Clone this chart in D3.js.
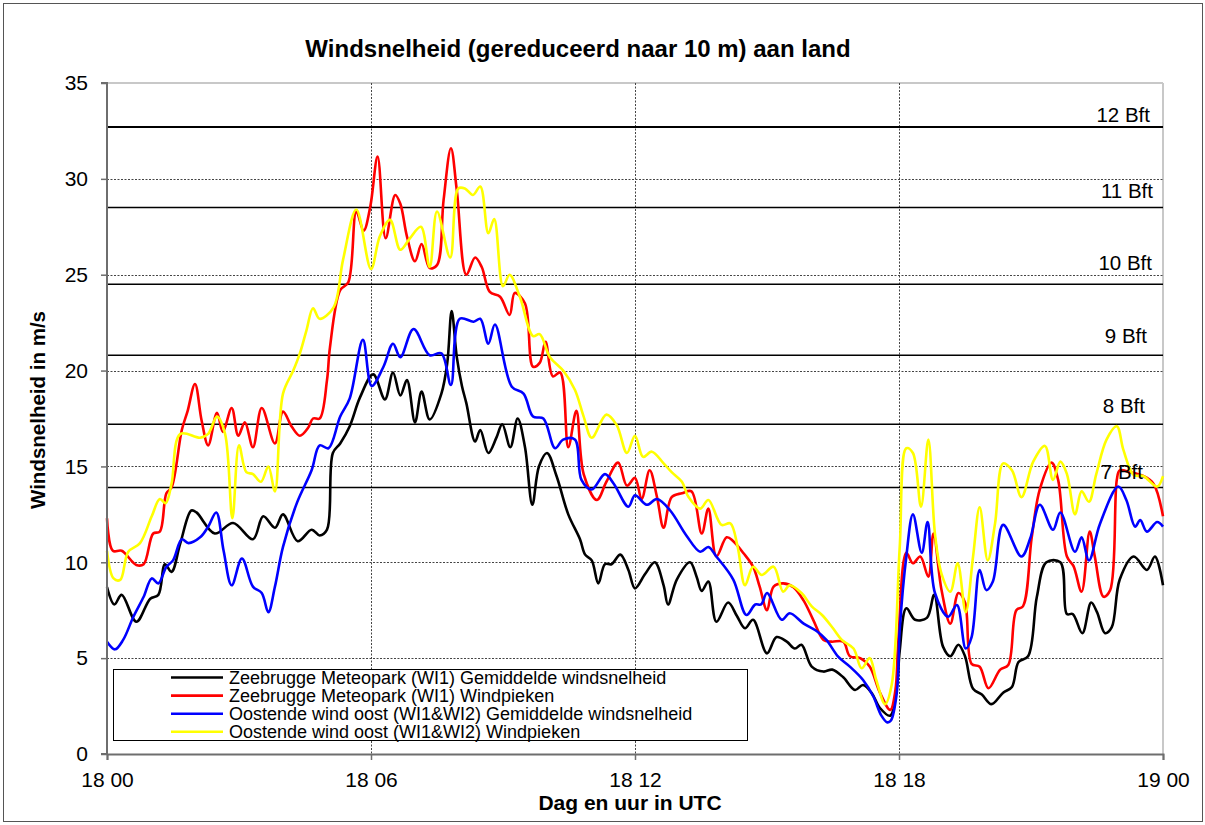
<!DOCTYPE html>
<html>
<head>
<meta charset="utf-8">
<script src="https://cdn.jsdelivr.net/npm/d3@7"></script>
<style>
  html, body { margin: 0; padding: 0; background: #fff; }
  svg { display: block; font-family: "Liberation Sans", Arial, sans-serif; }
</style>
</head>
<body>
<svg id="chart" width="1205" height="825"></svg>
<script>
// ---------------- DATA (minutes after 18 00 UTC, m/s) ----------------
const title = "Windsnelheid (gereduceerd naar 10 m) aan land";
const yTitle = "Windsnelheid in m/s";
const xTitle = "Dag en uur in UTC";
const xTickMinutes = [0, 360, 720, 1080, 1440];
const xTickLabels = ["18 00", "18 06", "18 12", "18 18", "19 00"];
const yTicks = [0, 5, 10, 15, 20, 25, 30, 35];
const bftValues = [32.7, 28.5, 24.5, 20.8, 17.2, 13.9];
const bftLabels = ["12 Bft", "11 Bft", "10 Bft", "9 Bft", "8 Bft", "7 Bft"];
const seriesNames = [
  "Zeebrugge Meteopark (WI1) Gemiddelde windsnelheid",
  "Zeebrugge Meteopark (WI1) Windpieken",
  "Oostende wind oost (WI1&WI2) Gemiddelde windsnelheid",
  "Oostende wind oost (WI1&WI2) Windpieken"
];

const zeebruggeMean = [[0,8.7],[10,7.8],[20,8.3],[40,6.9],[59,8.1],[70,8.3],[79,9.9],[88,9.5],[100,11.0],[115,12.7],[122,12.6],[147,11.5],[172,12.05],[199,11.2],[213,12.4],[229,11.8],[240,12.5],[260,11.1],[279,11.7],[290,11.4],[300,11.7],[308,15.7],[318,16.2],[331,17.1],[345,18.6],[363,19.8],[379,18.5],[390,19.9],[400,18.7],[409,19.5],[420,17.3],[429,18.9],[440,17.45],[456,18.8],[464,20.4],[470,23.1],[477,20.7],[484,19.2],[490,18.3],[502,16.3],[509,16.9],[520,15.7],[531,16.5],[539,17.2],[550,16.0],[560,17.5],[570,16.0],[580,13.0],[589,15.0],[600,15.7],[613,14.5],[629,12.5],[645,11.2],[652,10.4],[661,10.1],[670,8.9],[679,9.9],[688,9.9],[700,10.4],[711,9.6],[720,8.64],[734,9.4],[747,10.0],[759,8.8],[765,7.8],[777,9.1],[795,10.0],[804,9.25],[811,8.5],[820,9.0],[831,6.9],[847,7.9],[859,7.2],[870,6.56],[881,7.0],[900,5.25],[913,6.1],[927,5.86],[938,5.5],[947,5.7],[961,4.56],[977,4.3],[989,4.4],[1004,4.0],[1020,3.34],[1031,3.6],[1043,3.17],[1054,2.4],[1068,2.0],[1077,3.5],[1081,5.4],[1090,7.6],[1102,7.0],[1118,7.1],[1128,8.3],[1140,5.6],[1150,5.1],[1161,5.7],[1170,5.1],[1181,3.4],[1193,3.1],[1206,2.6],[1222,3.2],[1234,3.5],[1243,4.8],[1256,5.1],[1268,8.2],[1281,10.0],[1300,10.0],[1309,7.3],[1317,7.3],[1330,6.3],[1342,7.9],[1350,7.4],[1361,6.3],[1370,6.6],[1381,9.1],[1400,10.3],[1418,9.6],[1429,10.3],[1440,8.8]];

const zeebruggePeak = [[0,12.3],[8,10.6],[20,10.6],[40,9.86],[50,9.9],[63,11.5],[72,11.6],[81,13.6],[88,13.9],[102,16.9],[110,17.9],[120,19.3],[129,17.4],[138,16.1],[150,17.8],[158,16.8],[170,18.05],[179,16.6],[188,17.3],[199,16.0],[211,18.05],[229,16.2],[240,17.86],[252,17.07],[263,16.6],[274,17.0],[281,17.5],[290,17.5],[300,19.5],[304,21.2],[318,24.2],[329,24.6],[340,28.3],[350,27.3],[359,28.55],[369,31.16],[380,26.9],[393,29.16],[400,28.7],[409,27.0],[420,25.7],[429,26.6],[440,25.35],[450,25.5],[459,28.9],[469,31.6],[477,29.4],[490,25.0],[502,25.9],[511,25.4],[522,24.1],[536,23.85],[549,22.9],[556,24.05],[570,23.5],[581,20.2],[590,20.4],[598,21.5],[608,19.7],[618,19.9],[629,16.0],[640,17.9],[650,14.6],[668,13.25],[681,14.2],[697,15.2],[709,14.0],[720,14.4],[729,13.3],[740,14.8],[750,13.4],[759,11.8],[770,13.4],[784,13.6],[797,13.7],[811,11.5],[820,12.8],[831,10.3],[845,11.3],[854,11.1],[868,10.47],[881,9.77],[890,8.73],[900,7.5],[909,8.73],[922,8.9],[936,8.7],[950,8.0],[963,7.0],[977,5.95],[988,5.86],[1004,5.86],[1013,5.1],[1027,5.0],[1040,4.56],[1054,3.2],[1068,2.3],[1075,3.3],[1079,5.8],[1090,10.5],[1099,9.95],[1109,10.3],[1120,9.25],[1127,11.5],[1138,8.55],[1150,6.8],[1161,8.4],[1170,7.9],[1179,4.7],[1190,4.55],[1202,3.43],[1218,4.4],[1229,4.64],[1240,7.5],[1249,7.7],[1261,11.3],[1272,13.8],[1288,15.2],[1297,14.3],[1309,10.3],[1318,9.8],[1329,8.47],[1340,11.6],[1347,10.3],[1359,8.2],[1368,8.55],[1377,14.3],[1381,14.8],[1395,14.7],[1413,14.5],[1427,14.1],[1440,12.4]];

const oostendeMean = [[0,5.86],[11,5.46],[22,5.95],[36,7.16],[50,8.2],[61,9.16],[70,8.9],[81,9.77],[90,10.1],[102,11.2],[111,11.0],[127,11.3],[138,11.86],[149,12.6],[159,10.6],[170,8.8],[184,10.2],[199,8.73],[211,8.4],[220,7.4],[229,8.73],[240,10.8],[259,13.1],[279,14.8],[290,16.1],[302,15.95],[318,17.6],[331,18.55],[349,21.6],[361,19.2],[377,20.2],[390,21.4],[400,20.7],[418,22.17],[440,20.8],[456,20.9],[469,19.25],[481,22.7],[500,22.55],[509,22.7],[520,21.4],[529,22.4],[552,19.16],[568,18.8],[581,17.6],[595,17.5],[611,15.95],[622,16.4],[638,16.4],[647,14.3],[661,13.8],[679,14.6],[691,14.1],[711,12.9],[720,13.5],[736,13.0],[750,13.3],[768,12.7],[790,11.4],[809,10.55],[820,10.8],[831,10.3],[854,9.1],[872,7.25],[884,7.8],[892,7.8],[900,8.4],[920,7.0],[931,7.34],[950,6.8],[968,6.4],[981,5.95],[997,5.08],[1013,4.56],[1031,3.86],[1045,3.0],[1056,2.0],[1064,1.65],[1069,1.75],[1077,3.2],[1081,6.5],[1090,10.3],[1099,12.5],[1111,10.5],[1119,12.1],[1129,8.4],[1147,7.16],[1159,7.77],[1171,5.5],[1179,6.1],[1190,9.6],[1199,8.55],[1208,9.0],[1222,11.95],[1247,10.3],[1259,11.25],[1272,13.0],[1290,11.7],[1300,12.6],[1320,10.55],[1329,11.3],[1339,10.1],[1354,12.0],[1379,13.95],[1390,13.25],[1402,11.86],[1409,12.2],[1418,11.6],[1432,12.1],[1440,11.86]];

const oostendePeak = [[0,10.6],[9,9.16],[18,9.08],[29,10.55],[45,11.0],[61,12.4],[72,13.3],[80,13.08],[88,14.1],[100,16.7],[127,16.5],[138,16.7],[150,17.6],[161,16.7],[171,12.3],[180,16.1],[190,14.7],[199,14.6],[210,14.2],[220,15.0],[229,13.7],[240,18.8],[254,20.0],[263,20.9],[272,22.1],[281,23.25],[290,22.7],[309,23.3],[322,25.8],[340,28.4],[360,25.3],[372,27.0],[386,27.86],[400,26.3],[413,26.9],[428,27.5],[440,25.4],[450,28.3],[468,25.9],[479,29.5],[488,29.5],[499,29.16],[509,29.6],[520,27.16],[528,27.9],[540,24.4],[549,25.0],[563,23.85],[581,21.8],[590,21.9],[604,20.7],[622,20.0],[638,19.0],[650,17.6],[661,16.5],[681,17.7],[695,17.16],[709,15.7],[720,16.6],[731,15.5],[743,15.77],[759,15.16],[770,14.7],[784,14.2],[793,13.4],[809,12.8],[820,13.25],[838,11.95],[850,12.03],[860,10.8],[870,8.8],[881,9.77],[893,9.34],[909,9.77],[922,8.47],[931,8.8],[947,8.4],[961,7.7],[975,7.25],[990,6.56],[1002,5.95],[1018,5.5],[1029,4.47],[1040,5.0],[1049,3.86],[1061,2.6],[1070,3.6],[1081,10.8],[1090,15.95],[1099,15.7],[1110,12.9],[1120,16.4],[1129,11.5],[1138,9.4],[1150,8.47],[1160,9.95],[1171,7.4],[1181,10.3],[1190,12.87],[1201,10.1],[1211,12.03],[1222,15.16],[1234,14.8],[1247,13.4],[1263,15.25],[1279,16.07],[1290,14.3],[1300,15.25],[1309,14.6],[1320,12.5],[1329,13.7],[1339,13.16],[1349,14.6],[1363,16.4],[1377,17.1],[1386,15.86],[1400,14.55],[1413,14.5],[1432,13.95],[1440,14.5]];

const seriesData = [zeebruggeMean, zeebruggePeak, oostendeMean, oostendePeak];
const seriesColors = ["#000000", "#ff0000", "#0000ff", "#ffff00"];

// ---------------- LAYOUT ----------------
const L = 107, R = 1163, T = 83, B = 754;
const svg = d3.select("#chart");
const x = d3.scaleLinear().domain([0, 1440]).range([L, R]);
const y = d3.scaleLinear().domain([0, 35]).range([B, T]);

// outer border
svg.append("rect").attr("x", 3.5).attr("y", 3.5).attr("width", 1199).attr("height", 818)
  .attr("fill", "#fff").attr("stroke", "#555").attr("stroke-width", 1);

// plot frame (top & right light grey)
svg.append("line").attr("x1", L).attr("x2", R).attr("y1", y(35)).attr("y2", y(35))
  .attr("stroke", "#c8c8c8").attr("stroke-width", 2);
svg.append("line").attr("x1", R).attr("x2", R).attr("y1", T).attr("y2", B)
  .attr("stroke", "#c8c8c8").attr("stroke-width", 2);

// horizontal dotted gridlines
svg.append("g").selectAll("line").data(yTicks.filter(v => v > 0 && v < 35)).join("line")
  .attr("x1", L).attr("x2", R).attr("y1", d => Math.round(y(d)) + 0.5).attr("y2", d => Math.round(y(d)) + 0.5)
  .attr("stroke", "#444").attr("stroke-width", 1).attr("stroke-dasharray", "2,1.5");
// vertical dotted gridlines
svg.append("g").selectAll("line").data(xTickMinutes.filter(v => v > 0 && v < 1440)).join("line")
  .attr("x1", d => Math.round(x(d)) + 0.5).attr("x2", d => Math.round(x(d)) + 0.5).attr("y1", T).attr("y2", B)
  .attr("stroke", "#444").attr("stroke-width", 1).attr("stroke-dasharray", "2,1.5");

// Beaufort lines
const bftWidths = [2, 1.5, 1.5, 1.5, 1.5, 1.5];
svg.append("g").selectAll("line").data(bftValues).join("line")
  .attr("x1", L).attr("x2", R).attr("y1", d => y(d)).attr("y2", d => y(d))
  .attr("stroke", "#000").attr("stroke-width", (d, i) => bftWidths[i]);

// series lines
const line = d3.line()
  .x(d => x(d[0])).y(d => y(d[1]))
  .curve(d3.curveCatmullRom.alpha(0.5));
svg.append("g").selectAll("path").data(seriesData).join("path")
  .attr("d", d => line(d))
  .attr("fill", "none")
  .attr("stroke", (d, i) => seriesColors[i])
  .attr("stroke-width", 2.6)
  .attr("stroke-linejoin", "round");

// Beaufort labels
const bftLabelX = [1150, 1153, 1152, 1147, 1145, 1143];
const bftLabelOff = [5, 10, 14, 12, 11, 9];
svg.append("g").selectAll("text").data(bftLabels).join("text")
  .attr("x", (d, i) => bftLabelX[i])
  .attr("y", (d, i) => y(bftValues[i]) - bftLabelOff[i])
  .attr("text-anchor", "end").attr("font-size", 20.5).attr("fill", "#000")
  .text(d => d);

// axes
const yAxis = svg.append("g").attr("transform", `translate(${L},0)`)
  .call(d3.axisLeft(y).tickValues(yTicks).tickSize(6).tickPadding(13).tickFormat(d3.format("d")));
const xAxis = svg.append("g").attr("transform", `translate(0,${B})`)
  .call(d3.axisBottom(x).tickValues(xTickMinutes).tickSize(6).tickFormat((d, i) => xTickLabels[i]));
[yAxis, xAxis].forEach(g => {
  g.select(".domain").attr("stroke", "#6e6e6e").attr("stroke-width", 2);
  g.selectAll(".tick line").attr("stroke", "#6e6e6e").attr("stroke-width", 1.5);
  g.selectAll(".tick text").attr("font-size", 21).attr("fill", "#000")
    .attr("font-family", "'Liberation Sans', Arial, sans-serif");
});
yAxis.select(".domain").attr("d", `M-6,${B}H0V${T}H-6`);
xAxis.selectAll(".tick text").attr("dy", null).attr("y", 33);

// titles
svg.append("text").attr("x", 578).attr("y", 57).attr("text-anchor", "middle")
  .attr("font-size", 24).attr("font-weight", "bold").text(title);
svg.append("text").attr("x", 630).attr("y", 810).attr("text-anchor", "middle")
  .attr("font-size", 21).attr("font-weight", "bold").text(xTitle);
svg.append("text").attr("transform", "translate(45,410) rotate(-90)").attr("text-anchor", "middle")
  .attr("font-size", 20.5).attr("font-weight", "bold").text(yTitle);

// legend
const lg = svg.append("g");
lg.append("rect").attr("x", 113.5).attr("y", 669.5).attr("width", 634).attr("height", 71)
  .attr("fill", "#fff").attr("stroke", "#000").attr("stroke-width", 1);
const rows = lg.selectAll("g.row").data(seriesNames).join("g").attr("class", "row")
  .attr("transform", (d, i) => `translate(0,${677.5 + i * 18.1})`);
rows.append("line").attr("x1", 171).attr("x2", 223).attr("y1", 0).attr("y2", 0)
  .attr("stroke", (d, i) => seriesColors[i]).attr("stroke-width", 2.6);
rows.append("text").attr("x", 229).attr("y", 6.3).attr("font-size", 18).attr("fill", "#000").text(d => d);
</script>
</body>
</html>
